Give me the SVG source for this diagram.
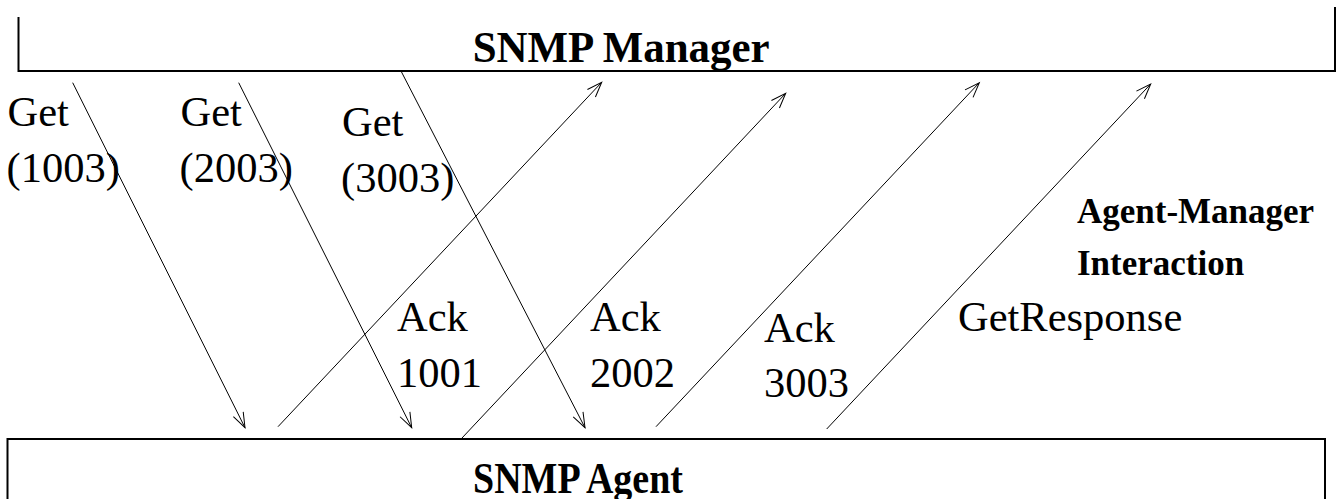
<svg xmlns="http://www.w3.org/2000/svg" width="1336" height="499" viewBox="0 0 1336 499">
  <style>
    .box { fill: none; stroke: #000; stroke-width: 2; }
    .msg { fill: none; stroke: #000; stroke-width: 1; marker-end: url(#head); }
    .lbl { font-family: "Liberation Serif", "Times New Roman", serif; font-size: 42.5px; fill: #000; }
    .title { font-family: "Liberation Serif", "Times New Roman", serif; font-size: 45px; font-weight: bold; fill: #000; }
    .note { font-family: "Liberation Serif", "Times New Roman", serif; font-size: 35px; font-weight: bold; fill: #000; }
  </style>
  <defs>
    <marker id="head" markerUnits="userSpaceOnUse" viewBox="-16 -7 17 14" refX="0" refY="0" markerWidth="17" markerHeight="14" orient="auto" overflow="visible">
      <path d="M-15,-5.5 L0,0 L-15,5.5" fill="none" stroke="#000" stroke-width="1"/>
    </marker>
  </defs>
  <rect width="1336" height="499" fill="#fff"/>

  <!-- manager bar (open at the top) -->
  <g id="manager">
    <path class="box" d="M18.5,17 V71 H1335 V7"/>
    <text class="title" x="472.7" y="62" textLength="297" lengthAdjust="spacingAndGlyphs">SNMP Manager</text>
  </g>

  <!-- agent bar (open at the bottom) -->
  <g id="agent">
    <path class="box" d="M7.5,499 V439 H1325 V499"/>
    <text class="title" x="473" y="493" textLength="210" lengthAdjust="spacingAndGlyphs">SNMP Agent</text>
  </g>

  <!-- request and response messages -->
  <g id="connectors">
    <line class="msg" x1="72.7" y1="82.7" x2="245" y2="427.7"/>
    <line class="msg" x1="238.7" y1="82.7" x2="411.7" y2="427.7"/>
    <line class="msg" x1="401" y1="71" x2="585" y2="427.7"/>
    <line class="msg" x1="278" y1="426.7" x2="601.7" y2="82.3"/>
    <line class="msg" x1="462" y1="438" x2="785.7" y2="93.3"/>
    <line class="msg" x1="656" y1="426.7" x2="979.3" y2="82.7"/>
    <line class="msg" x1="826.7" y1="429" x2="1150.7" y2="84"/>
  </g>

  <!-- message labels -->
  <g id="labels">
    <text class="lbl" x="7.5" y="126">Get</text>
    <text class="lbl" x="6.5" y="181.5">(1003)</text>
    <text class="lbl" x="180.5" y="126">Get</text>
    <text class="lbl" x="179.5" y="181.5">(2003)</text>
    <text class="lbl" x="342" y="136">Get</text>
    <text class="lbl" x="341" y="192">(3003)</text>
    <text class="lbl" x="397" y="331">Ack</text>
    <text class="lbl" x="397" y="387">1001</text>
    <text class="lbl" x="590" y="331">Ack</text>
    <text class="lbl" x="590" y="387">2002</text>
    <text class="lbl" x="764" y="342">Ack</text>
    <text class="lbl" x="764" y="397">3003</text>
    <text class="lbl" x="958" y="331">GetResponse</text>
  </g>

  <g id="caption">
    <text class="note" x="1077" y="223">Agent-Manager</text>
    <text class="note" x="1077" y="275">Interaction</text>
  </g>
</svg>
